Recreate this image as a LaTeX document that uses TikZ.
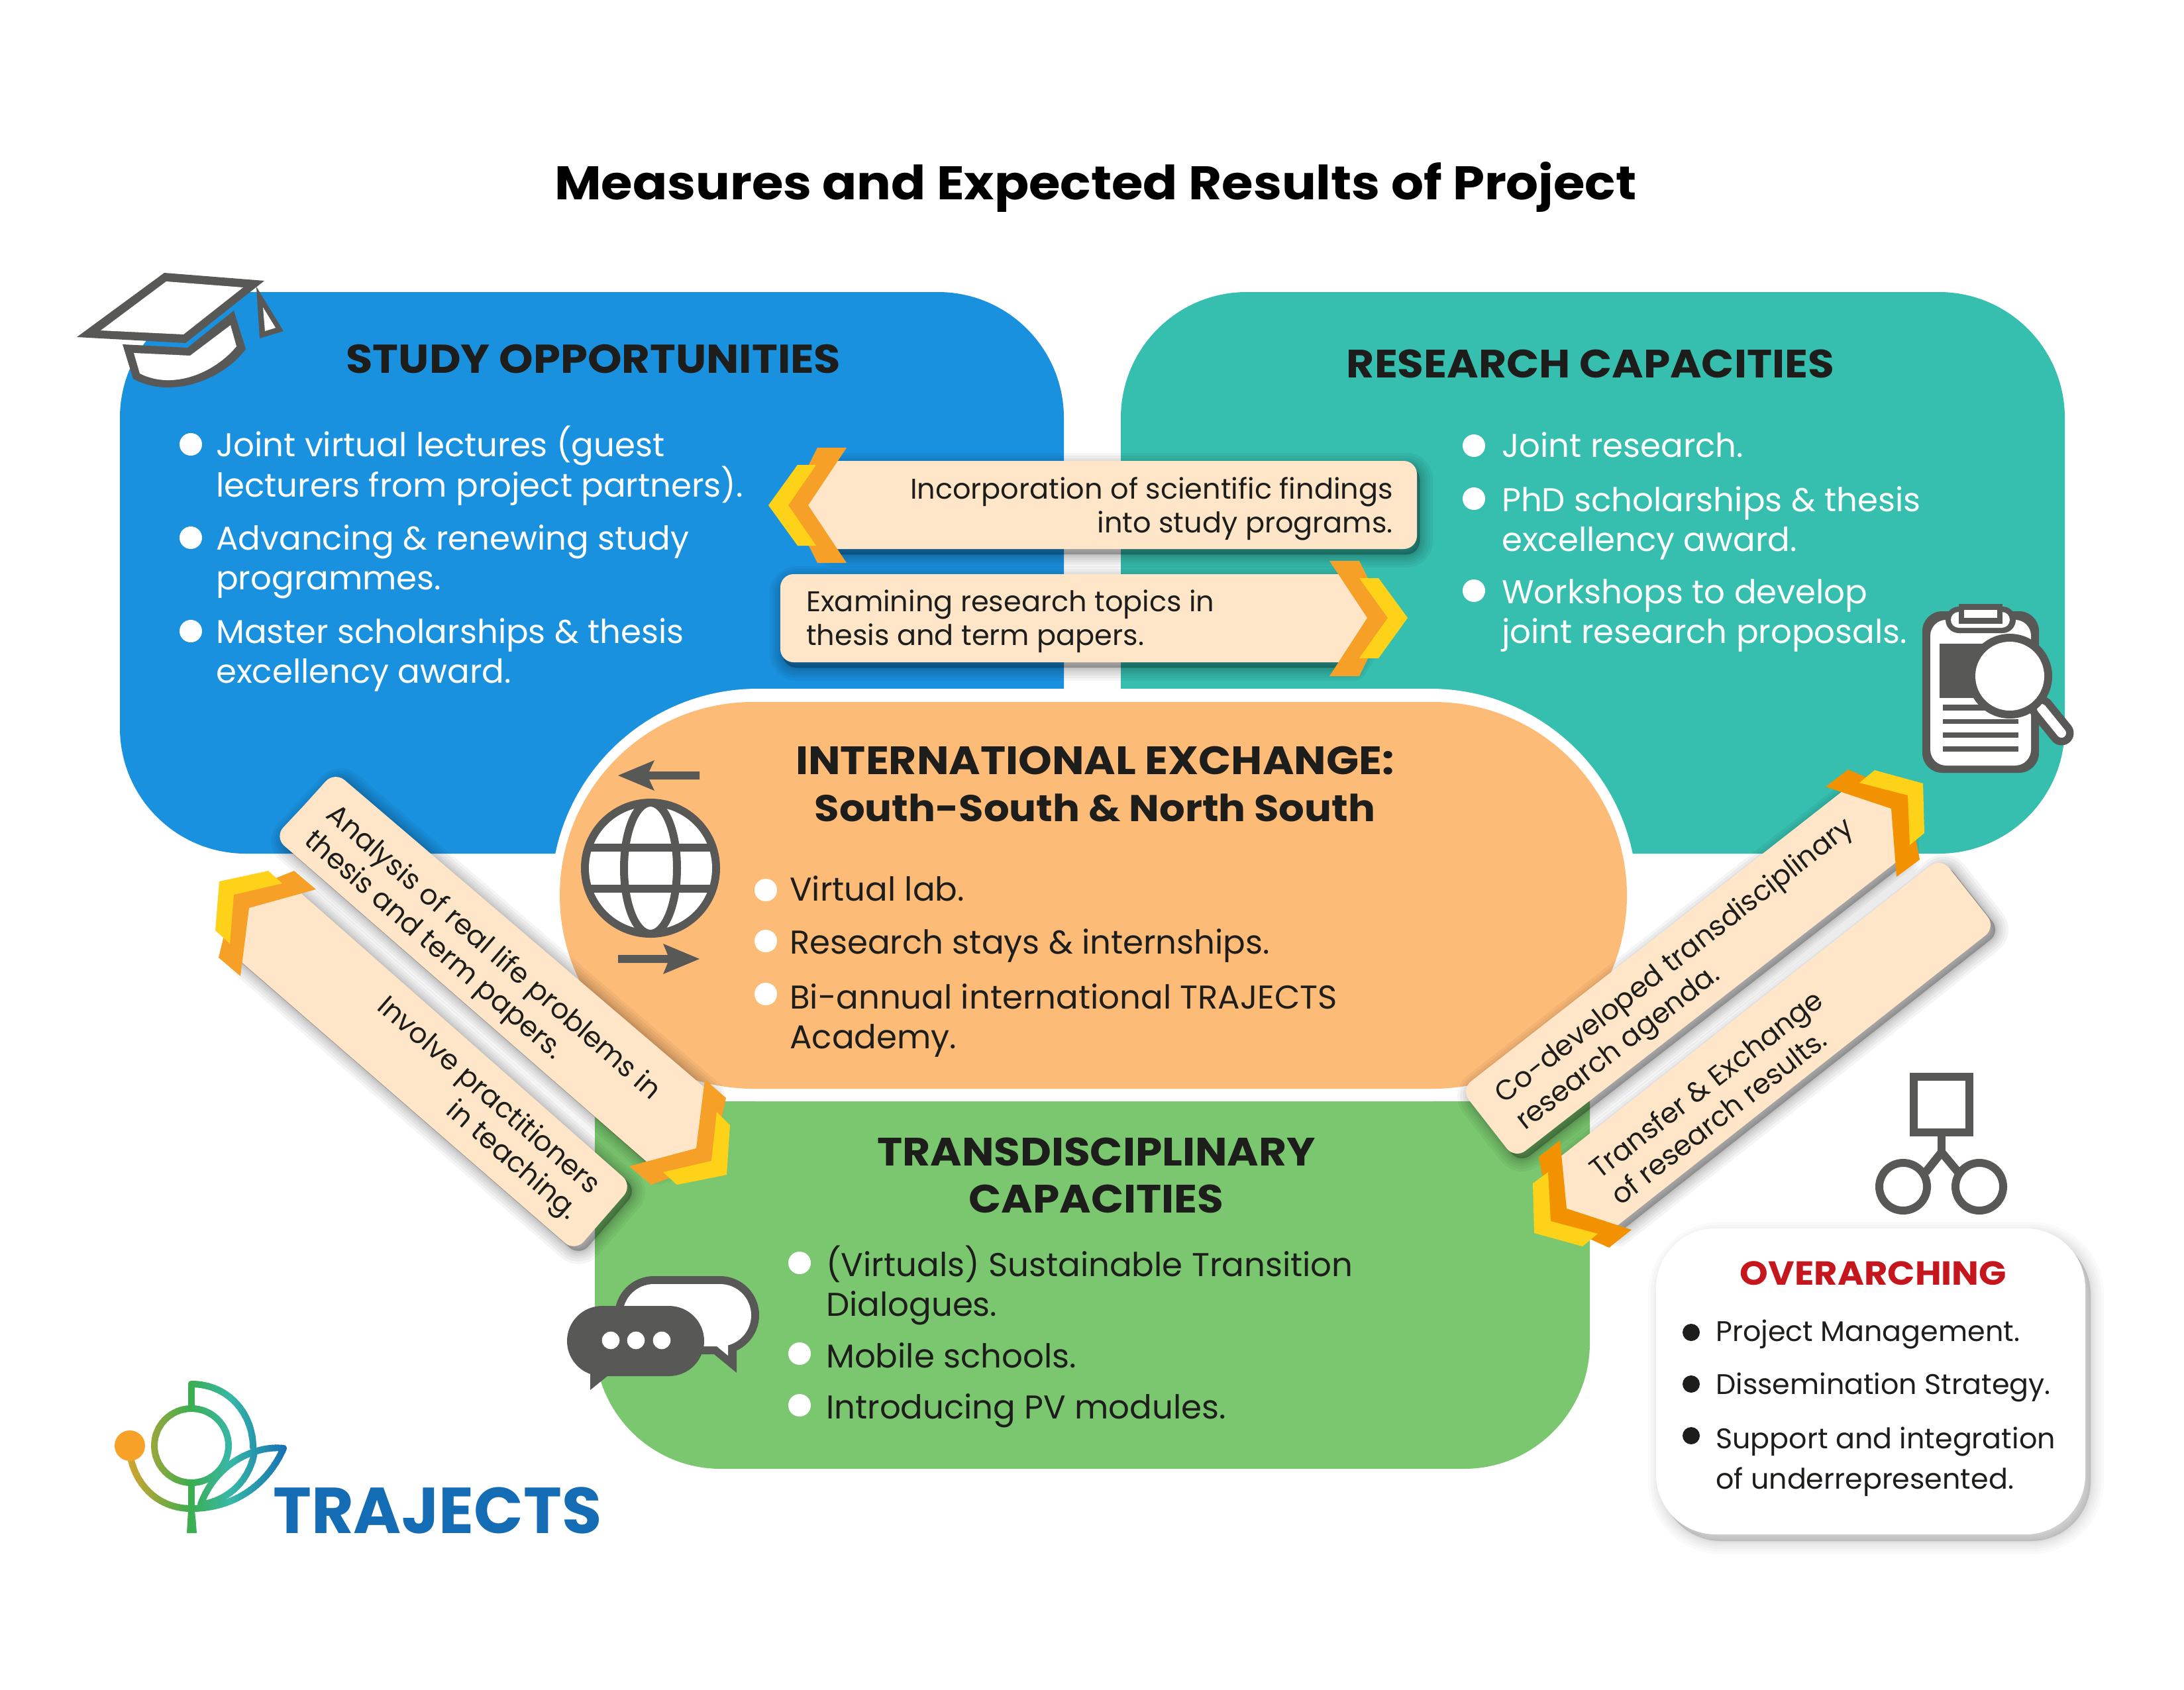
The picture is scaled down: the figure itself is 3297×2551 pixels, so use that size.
\documentclass[tikz,border=0pt]{standalone}
\usepackage{fontspec}
\setmainfont{Poppins}
\newfontfamily\hdfont[FakeStretch=1.08]{Poppins}
\definecolor{cblue}{HTML}{1A91DF}
\definecolor{cteal}{HTML}{36BEAE}
\definecolor{cgreen}{HTML}{7AC76F}
\definecolor{corange}{HTML}{FDBB78}
\definecolor{ccream}{HTML}{FFE6C8}
\definecolor{carrow}{HTML}{F6A027}
\definecolor{carrowb}{HTML}{F39200}
\definecolor{cyell}{HTML}{FFD21A}
\definecolor{cgray}{HTML}{585857}
\definecolor{cink}{HTML}{1D1D1B}
\definecolor{cred}{HTML}{C4161C}
\definecolor{clogo}{HTML}{146CB4}
\definecolor{lgA}{HTML}{F7A128}
\definecolor{lgB}{HTML}{3BAE4F}
\definecolor{lgC}{HTML}{37B8A6}
\definecolor{lgD}{HTML}{146CB5}
\tikzset{
  bodyw/.style={text=white,inner sep=0pt,align=left,anchor=base west,font=\fontsize{50}{60}\selectfont},
  bodyk/.style={text=cink,inner sep=0pt,align=left,anchor=base west,font=\fontsize{50}{60}\selectfont},
  head/.style={text=cink,inner sep=0pt,align=center,anchor=base,font=\fontsize{60}{71}\selectfont\hdfont\bfseries},
  small/.style={text=cink,inner sep=0pt,align=left,font=\fontsize{43.2}{51}\selectfont},
  diag/.style={text=cink,inner sep=0pt,align=left,font=\fontsize{42.5}{51}\selectfont},
  over/.style={text=cink,inner sep=0pt,align=left,anchor=base west,font=\fontsize{43}{61}\selectfont},
  dot/.style={circle,fill=white,minimum size=34bp,inner sep=0pt},
  dotk/.style={circle,fill=cink,minimum size=26bp,inner sep=0pt},
  ic/.style={fill=cgray},
}
\newcommand{\softshadow}[3][.04]{%
  \foreach \w in {40,32,24,17,11,6,2}{\path[fill=black,draw=black,opacity=#1,line width=\w bp,line join=round,shift={(#2)}] #3;}}
\newcommand{\logostrokes}{%
  \draw (289,2183) circle[radius=56];
  \draw (289,2127) -- (289,2090);
  \draw (289,2090) .. controls (345,2090) and (382,2135) .. (382,2186);
  \draw (198,2205) .. controls (208,2245) and (240,2278) .. (289,2278)
        .. controls (355,2278) and (405,2240) .. (428,2187)
        .. controls (385,2182) and (325,2210) .. (303,2272);
  \draw (384,2193) .. controls (378,2230) and (350,2265) .. (303,2272);
  \draw (289,2240) -- (289,2278);
  \fill (284,2280) -- (294,2280) -- (297,2315) -- (282,2315) -- cycle;}
\begin{document}
\begin{tikzpicture}[x=1bp,y=-1bp]
\useasboundingbox (0,0) rectangle (3297,2551);
\fill[white] (0,0) rectangle (3297,2551);

% title
\node[inner sep=0pt,anchor=base,text=black,font=\fontsize{71.5}{80}\selectfont\hdfont\bfseries] (title) at (1654,301) {Measures and Expected Results of Project};

% panels
\fill[cblue,rounded corners=190bp] (181,441) rectangle (1606,1289);
\fill[cteal,rounded corners=190bp] (1692,441) rectangle (3117,1289);
\fill[cgreen] (898,1663) -- (2400,1663) [rounded corners=190bp] -- (2400,2218) -- (898,2218) [sharp corners] -- cycle;
\fill[white,rounded corners=312bp] (832,1040) rectangle (2471,1663);
\fill[corange,rounded corners=292bp] (845,1060) rectangle (2456,1644);

% grad cap
\fill[ic] (116,509) -- (248,412) -- (399,424) -- (280,518) -- cycle;
\fill[white] (152,499) -- (251,425) -- (367,434) -- (277,505) -- cycle;
\fill[ic] (185,520) -- (283,525) -- (353,469) -- (371,527) .. controls (340,570) and (262,605) .. (201,572) -- cycle;
\fill[white] (202,533) -- (287,537) -- (348,491) -- (357,523) .. controls (325,562) and (262,590) .. (211,564) -- cycle;
\fill[ic] (387,433) -- (428,500) -- (392,511) -- cycle;
\fill[white] (397,464) -- (416,495) -- (400,500) -- cycle;

% headers
\node[head,font=\fontsize{61}{71}\selectfont\hdfont\bfseries] (hstudy) at (896,563) {STUDY OPPORTUNITIES};
\node[head] (hres) at (2401,570) {RESEARCH CAPACITIES};

% study bullets
\node[dot] (d1) at (288,671) {};
\node[dot] (d2) at (288,812) {};
\node[dot] (d3) at (288,953) {};
\node[bodyw] (s1) at (326,750) {Joint virtual lectures (guest\\lecturers from project partners).};
\node[bodyw] (s2) at (326,890) {Advancing \& renewing study\\programmes.};
\node[bodyw] (s3) at (326,1031) {Master scholarships \& thesis\\excellency award.};

% research bullets
\node[dot] (r1) at (2225,673) {};
\node[dot] (r2) at (2225,753) {};
\node[dot] (r3) at (2225,892) {};
\node[bodyw] (rt1) at (2267,690) {Joint research.};
\node[bodyw] (rt2) at (2267,832) {PhD scholarships \& thesis\\excellency award.};
\node[bodyw] (rt3) at (2267,971) {Workshops to develop\\joint research proposals.};

% clipboard
\fill[ic,rounded corners=30bp] (2902,923) rectangle (3078,1167);
\fill[white,rounded corners=24bp] (2914,936) rectangle (3066,1156);
\fill[ic,rounded corners=20bp] (2937,916) rectangle (3043,956);
\fill[white,rounded corners=12bp] (2945,924) rectangle (3034,948);
\fill[ic] (2957,912) rectangle (3023,942);
\fill[white] (2965,921) rectangle (3015,933);
\fill[ic] (2928,972) rectangle (3010,1054);
\foreach \yy/\yb in {1064/1073,1086/1093,1106/1114,1127/1135}{\fill[ic] (2933,\yy) rectangle (3047,\yb);}
\draw[cgray,line width=37bp,line cap=round] (3082,1070) -- (3112,1107);
\draw[white,line width=14bp,line cap=round] (3082,1070) -- (3112,1107);
\fill[ic] (3034,1021) circle[radius=64];
\fill[white] (3034,1021) circle[radius=52];

% globe
\fill[ic] (982,1311) circle[radius=105];
\fill[white] (982,1311) circle[radius=93];
\begin{scope}
\clip (982,1311) circle[radius=99];
\draw[cgray,line width=12bp] (982,1311) ellipse[x radius=40,y radius=99];
\fill[ic] (880,1274) rectangle (1084,1286);
\fill[ic] (880,1336) rectangle (1084,1348);
\end{scope}
\fill[ic] (933,1171) -- (988,1148) -- (980,1165) -- (1056,1165) -- (1056,1177) -- (980,1177) -- (988,1194) -- cycle;
\fill[ic] (1056,1448) -- (1001,1425) -- (1008,1442) -- (933,1442) -- (933,1454) -- (1008,1454) -- (1001,1471) -- cycle;

% international
\node[head] (hint) at (1653,1240) {INTERNATIONAL EXCHANGE:\\{\fontsize{56.5}{71}\selectfont South-South \& North South}};
\node[dot] (i1) at (1156,1344) {};
\node[dot] (i2) at (1156,1421) {};
\node[dot] (i3) at (1156,1501) {};
\node[bodyk] (it1) at (1192,1360) {Virtual lab.};
\node[bodyk] (it2) at (1192,1440) {Research stays \& internships.};
\node[bodyk] (it3) at (1192,1583) {Bi-annual international TRAJECTS\\Academy.};

% transdisciplinary
\node[head] (htr) at (1655,1831) {TRANSDISCIPLINARY\\CAPACITIES};
\node[dot] (t1) at (1207,1907) {};
\node[dot] (t2) at (1207,2044) {};
\node[dot] (t3) at (1207,2122) {};
\node[bodyk] (tt1) at (1247,1987) {(Virtuals) Sustainable Transition\\Dialogues.};
\node[bodyk] (tt2) at (1247,2065) {Mobile schools.};
\node[bodyk] (tt3) at (1247,2142) {Introducing PV modules.};

% chat
\fill[ic,rounded corners=59bp] (928,1927) rectangle (1146,2045);
\fill[ic] (1078,2045) -- (1112,2073) -- (1112,2030) -- cycle;
\fill[white,rounded corners=47bp] (940,1939) rectangle (1134,2033);
\fill[white] (1082,2033) -- (1099,2047) -- (1099,2025) -- cycle;
\fill[ic,rounded corners=53bp] (856,1972) rectangle (1063,2078);
\fill[ic] (891,2060) -- (891,2099) -- (917,2078) -- cycle;
\foreach \xx in {922,960,999}{\fill[white] (\xx,2024) circle[radius=13.3];}

% horizontal boxes
\def\pa{(1700,696) [rounded corners=20bp] -- (2139,696) -- (2139,829) [sharp corners] -- (1255,829) -- (1210,763) -- (1255,696) -- cycle}
\softshadow{4,8}{\pa}
\fill[ccream] \pa;
\fill[carrow] (1278,676) -- (1234,676) -- (1190,763) -- (1234,850) -- (1278,850) -- (1220,763) -- cycle;
\fill[cyell] (1232,702) -- (1204,702) -- (1160,763) -- (1204,824) -- (1232,824) -- (1190,763) -- cycle;
\node[small,align=right,anchor=base east] (bx1) at (2103,804) {Incorporation of scientific findings\\into study programs.};

\def\pb{(1600,867) -- (2040,867) -- (2080,933) -- (2040,1000) [rounded corners=20bp] -- (1178,1000) -- (1178,867) [sharp corners] -- cycle}
\softshadow{4,8}{\pb}
\fill[ccream] \pb;
\fill[carrow] (2007,847) -- (2052,847) -- (2095,933) -- (2052,1021) -- (2007,1021) -- (2064,933) -- cycle;
\fill[cyell] (2052,873) -- (2081,873) -- (2125,933) -- (2081,994) -- (2052,994) -- (2095,933) -- cycle;
\node[small,anchor=base west] (bx2) at (1217,974) {Examining research topics in\\thesis and term papers.};

% left diagonal boxes
\def\pc{(460,1215) [rounded corners=20bp] -- (505,1165) [sharp corners] -- (1067,1645) -- (1060,1740) -- (985,1762) [rounded corners=20bp] -- (414,1264) [sharp corners] -- cycle}
\softshadow{7,7}{\pc}
\fill[ccream] \pc;
\def\pd{(450,1345) [rounded corners=20bp] -- (955,1790) -- (868,1890) [sharp corners] -- (358,1447) -- (365,1365) -- cycle}
\softshadow{7,7}{\pd}
\fill[ccream] \pd;
\fill[carrow] (1064,1630) -- (1096,1658) -- (1075,1756) -- (983,1789) -- (950,1761) -- (1051,1734) -- cycle;
\fill[cyell] (1082,1679) -- (1102,1699) -- (1097,1774) -- (1022,1789) -- (1001,1770) -- (1074,1753) -- cycle;
\fill[carrow] (444,1315) -- (477,1343) -- (376,1371) -- (363,1474) -- (330,1446) -- (353,1351) -- cycle;
\fill[cyell] (331,1331) -- (405,1315) -- (426,1334) -- (353,1351) -- (347,1425) -- (325,1405) -- cycle;
\node[diag,rotate=-41,anchor=base west] (bx3) at (457,1272) {Analysis of real life problems in\\thesis and term papers.};
\node[diag,rotate=-41,align=right,anchor=base east] (bx4) at (858,1843) {Involve practitioners\\in teaching.};

% right diagonal boxes
\def\pe{(2500,1415) -- (2785,1192) -- (2870,1215) -- (2870,1296) [rounded corners=20bp] -- (2287,1750) -- (2205,1645) [sharp corners] -- cycle}
\softshadow{7,7}{\pe}
\fill[ccream] \pe;
\def\pf{(2700,1475) [rounded corners=20bp] -- (2930,1295) -- (3013,1400) [sharp corners] -- (2436,1855) -- (2350,1830) -- (2350,1751) -- cycle}
\softshadow{7,7}{\pf}
\fill[ccream] \pf;
\fill[carrowb] (2756,1188) -- (2790,1162) -- (2880,1201) -- (2898,1298) -- (2863,1324) -- (2855,1221) -- cycle;
\fill[cyell] (2807,1182) -- (2830,1163) -- (2903,1183) -- (2905,1258) -- (2883,1276) -- (2880,1201) -- cycle;
\fill[carrowb] (2355,1722) -- (2323,1747) -- (2341,1844) -- (2429,1884) -- (2463,1857) -- (2365,1825) -- cycle;
\fill[cyell] (2337,1770) -- (2314,1787) -- (2316,1862) -- (2389,1882) -- (2412,1863) -- (2341,1844) -- cycle;
\node[diag,rotate=38,anchor=base west] (bx5) at (2302,1708) {Co-developed transdisciplinary\\research agenda.};
\node[diag,rotate=38,anchor=base west] (bx6) at (2446,1822) {Transfer \& Exchange\\of research results.};

% org icon
\fill[ic] (2883,1620) rectangle (2979,1716);
\fill[white] (2895,1632) rectangle (2967,1704);
\draw[cgray,line width=12.5bp] (2931,1716) -- (2931,1740);
\draw[cgray,line width=12.5bp] (2907,1770) -- (2931,1740) -- (2956,1770);
\draw[cgray,line width=12bp,fill=white] (2873,1792) circle[radius=36];
\draw[cgray,line width=12bp,fill=white] (2988,1792) circle[radius=36];

% overarching
\def\pg{[rounded corners=90bp] (2500,1855) rectangle (3148,2317)}
\softshadow[.018]{8,10}{\pg}
\fill[white] \pg;
\node[inner sep=0pt,anchor=base,text=cred,font=\fontsize{50.5}{60}\selectfont\hdfont\bfseries] (hover) at (2828,1940) {OVERARCHING};
\node[dotk] (o1) at (2553,2012) {};
\node[dotk] (o2) at (2553,2090) {};
\node[dotk] (o3) at (2553,2168) {};
\node[over] (ot1) at (2590,2025) {Project Management.};
\node[over] (ot2) at (2590,2105) {Dissemination Strategy.};
\node[over] (ot3) at (2590,2248) {Support and integration\\of underrepresented.};

% logo
\foreach \i in {0,...,55}{%
  \pgfmathsetmacro{\xl}{170+5*\i}
  \pgfmathsetmacro{\xr}{\xl+6}
  \pgfmathsetmacro{\mixa}{min(100,max(0,(\xl-170)/1.15))}
  \pgfmathsetmacro{\mixb}{min(100,max(0,(\xl-285)/0.6))}
  \pgfmathsetmacro{\mixc}{min(100,max(0,(\xl-345)/0.9))}
  \colorlet{lgcur}{lgB!\mixa!lgA}
  \ifdim\xl pt>285pt \colorlet{lgcur}{lgC!\mixb!lgB}\fi
  \ifdim\xl pt>345pt \colorlet{lgcur}{lgD!\mixc!lgC}\fi
  \begin{scope}
  \clip (\xl,2060) rectangle (\xr,2330);
  \begin{scope}[draw=lgcur,fill=lgcur,line width=10bp,line cap=round,line join=round]
  \logostrokes
  \end{scope}
  \end{scope}
}
\fill[lgA] (196,2183) circle[radius=23];
\node[inner sep=0pt,anchor=base west,text=clogo,font=\fontsize{98.3}{100}\selectfont\bfseries] (logo) at (412,2315) {TRAJECTS};
\end{tikzpicture}
\end{document}
